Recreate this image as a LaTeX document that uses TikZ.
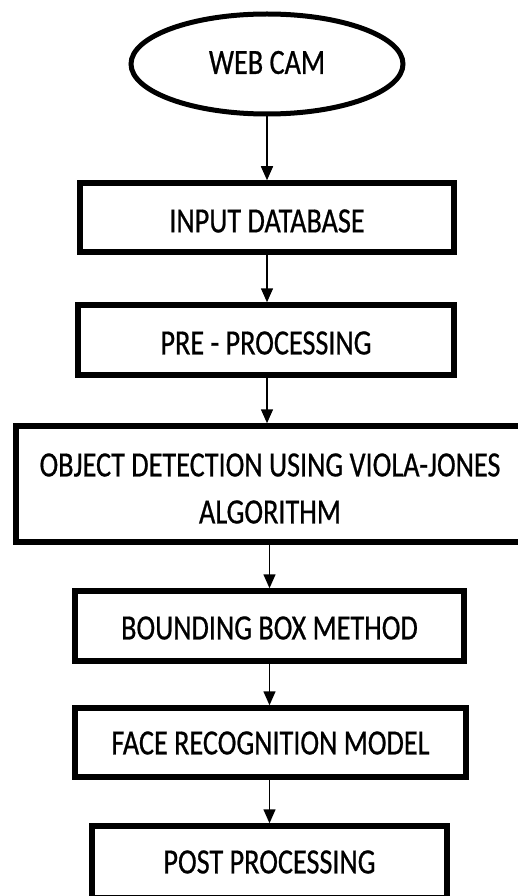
\documentclass[tikz,border=0pt]{standalone}
\usepackage{fontspec}
\setmainfont{Carlito}[FakeStretch=0.795,FakeBold=0.6]
\usetikzlibrary{shapes.geometric,arrows.meta}
\newcommand{\dn}[2]{\raisebox{-#1}[\height][\depth]{#2}}
\begin{document}
\begin{tikzpicture}[x=1pt,y=-1pt,
  box/.style={draw,line width=5.5pt,rectangle,inner sep=0pt,align=center,font=\fontsize{35.5}{47}\selectfont},
  oval/.style={draw,line width=5pt,ellipse,inner sep=0pt,font=\fontsize{35.5}{47}\selectfont},
  arr/.style={line width=1.5pt,-{Triangle[length=14pt,width=12pt]}}]
\useasboundingbox (0,0) rectangle (518,896);
\fill[white] (0,0) rectangle (518,896);
\clip (0,0) rectangle (518,896);
\node[oval,minimum width=272pt,minimum height=100pt] (cam) at (267,64) {\dn{-1.5pt}{WEB CAM}};
\node[box,minimum width=374pt,minimum height=69pt] (b1) at (267,217.5) {\dn{3.5pt}{INPUT DATABASE}};
\node[box,minimum width=376pt,minimum height=70pt] (b2) at (266,340) {\dn{3pt}{PRE - PROCESSING}};
\node[box,minimum width=508pt,minimum height=116pt] (b3) at (270,484) {\dn{6.5pt}{\begin{tabular}{@{}c@{}}OBJECT DETECTION USING VIOLA-JONES\\ALGORITHM\end{tabular}}};
\node[box,minimum width=389pt,minimum height=70pt] (b4) at (269.5,626) {\dn{2pt}{BOUNDING BOX METHOD}};
\node[box,minimum width=391pt,minimum height=69pt] (b5) at (270.5,742.5) {\dn{0.5pt}{FACE RECOGNITION MODEL}};
\node[box,minimum width=355pt,minimum height=72pt] (b6) at (269.5,862) {POST PROCESSING};
\draw[arr] (cam.south) -- (cam.south |- b1.north);
\draw[arr] (cam.south |- b1.south) -- (cam.south |- b2.north);
\draw[arr] (cam.south |- b2.south) -- (cam.south |- b3.north);
\draw[arr] (b4.north |- b3.south) -- (b4.north);
\draw[arr] (b4.south) -- (b4.south |- b5.north);
\draw[arr] (b4.south |- b5.south) -- (b4.south |- b6.north);
\end{tikzpicture}
\end{document}
